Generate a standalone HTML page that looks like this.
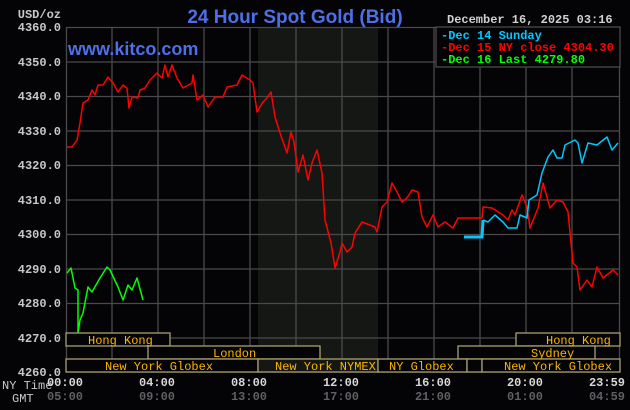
<!DOCTYPE html>
<html><head><meta charset="utf-8"><style>
html,body{margin:0;padding:0;background:#040406;width:630px;height:410px;overflow:hidden}
</style></head><body>
<svg width="630" height="410" xmlns="http://www.w3.org/2000/svg" style="display:block">
<rect width="630" height="410" fill="#040406"/>
<rect x="258" y="27" width="120" height="345" fill="#151715"/>
<g stroke="#4a4a4a" stroke-width="1.3">
<line x1="66" y1="27.5" x2="620" y2="27.5"/><line x1="66" y1="62" x2="620" y2="62"/><line x1="66" y1="96.5" x2="620" y2="96.5"/><line x1="66" y1="131" x2="620" y2="131"/><line x1="66" y1="165.5" x2="620" y2="165.5"/><line x1="66" y1="200" x2="620" y2="200"/><line x1="66" y1="234.5" x2="620" y2="234.5"/><line x1="66" y1="269" x2="620" y2="269"/><line x1="66" y1="303.5" x2="620" y2="303.5"/><line x1="66" y1="338" x2="620" y2="338"/><line x1="66" y1="372" x2="620" y2="372"/>
<line x1="66.5" y1="27" x2="66.5" y2="372"/><line x1="112" y1="27" x2="112" y2="372"/><line x1="158" y1="27" x2="158" y2="372"/><line x1="204" y1="27" x2="204" y2="372"/><line x1="250" y1="27" x2="250" y2="372"/><line x1="296" y1="27" x2="296" y2="372"/><line x1="342" y1="27" x2="342" y2="372"/><line x1="388" y1="27" x2="388" y2="372"/><line x1="434" y1="27" x2="434" y2="372"/><line x1="480" y1="27" x2="480" y2="372"/><line x1="526" y1="27" x2="526" y2="372"/><line x1="572" y1="27" x2="572" y2="372"/><line x1="619.5" y1="27" x2="619.5" y2="372"/>
</g>
<rect x="436" y="27" width="184" height="40" fill="#040406" stroke="#4a4a4a" stroke-width="1.3"/>
<g font-family="Liberation Mono, monospace" font-weight="bold" font-size="12">
<text x="441" y="39" fill="#00c8ff">-Dec 14 Sunday</text>
<text x="441" y="51" fill="#ff0000">-Dec 15 NY close 4304.30</text>
<text x="441" y="63" fill="#00ff00">-Dec 16 Last 4279.80</text>
</g>
<text x="447" y="23" font-family="Liberation Mono, monospace" font-weight="bold" font-size="12" fill="#d0d0d0">December 16, 2025 03:16</text>
<text x="295" y="23" text-anchor="middle" font-family="Liberation Sans, sans-serif" font-weight="bold" font-size="19" fill="#4f6fe8">24 Hour Spot Gold (Bid)</text>
<text x="68" y="55" font-family="Liberation Sans, sans-serif" font-weight="bold" font-size="18" fill="#4f6fe8">www.kitco.com</text>
<g font-family="Liberation Mono, monospace" font-weight="bold" font-size="12" fill="#c8c8c8" text-anchor="end">
<text x="61" y="18">USD/oz</text>
<text x="61" y="31">4360.0</text><text x="61" y="66">4350.0</text><text x="61" y="100">4340.0</text><text x="61" y="135">4330.0</text><text x="61" y="169">4320.0</text><text x="61" y="204">4310.0</text><text x="61" y="238">4300.0</text><text x="61" y="273">4290.0</text><text x="61" y="307">4280.0</text><text x="61" y="342">4270.0</text><text x="61" y="376">4260.0</text>
</g>
<g fill="none" stroke-width="1.5" stroke-linejoin="round">
<polyline stroke="#ff0000" points="67,147 72,147 77,140 80,123 83,103 88,100 92,90 95,95 98,85 103,85 108,77 113,83 118,92 123,85 127,88 129,108 132,97 138,98 140,90 145,88 150,80 157,73 162,78 165,65 168,77 172,65 177,78 183,88 192,83 193,75 197,100 203,95 208,107 215,97 223,97 227,87 237,85 242,75 250,80 253,83 257,112 263,102 267,98 271,92 275,117 280,133 287,153 291,132 294,142 298,172 303,155 308,180 312,163 317,150 322,173 325,220 331,243 335,268 340,252 342,243 347,252 352,247 355,233 362,222 375,227 377,232 382,207 387,202 392,183 397,192 402,202 407,198 412,190 418,192 422,217 427,227 433,215 438,227 445,222 453,228 458,218 482,218 483,207 492,208 503,215 508,220 512,210 515,215 522,195 527,207 530,228 538,208 543,183 550,208 557,200 563,202 568,212 573,263 577,267 580,290 587,280 592,287 597,267 603,278 613,270 618,275"/>
<polyline stroke="#00c8ff" points="483,220 488,222 495,215 503,222 508,228 517,228 520,215 527,218 529,200 537,195 542,173 548,157 553,150 557,158 562,158 565,145 575,140 578,143 582,163 588,143 597,145 607,137 612,150 618,143"/>
<polyline stroke="#00c8ff" stroke-width="3" points="464,237 482,237 483,220"/>
<polyline stroke="#00ff00" points="67,273 71,268 75,288 78,290 78,333 80,320 83,313 88,287 92,292 100,278 107,267 110,270 118,287 123,300 128,285 132,290 137,278 143,300"/>
</g>
<g fill="#040406" stroke="#a8a070" stroke-width="1.3">
<rect x="66" y="333" width="104" height="13"/>
<rect x="516" y="333" width="104" height="13"/>
<rect x="148" y="346" width="172" height="13"/>
<rect x="458" y="346" width="137" height="13"/>
<rect x="66" y="359" width="192" height="13"/>
<rect x="258" y="359" width="120" height="13" fill="#151715"/>
<rect x="378" y="359" width="89" height="13"/>
<rect x="467" y="359" width="15" height="13"/>
<rect x="482" y="359" width="138" height="13"/>
</g>
<g font-family="Liberation Mono, monospace" font-size="12" fill="#ffb400">
<text x="88" y="344">Hong Kong</text>
<text x="546" y="344">Hong Kong</text>
<text x="213" y="357">London</text>
<text x="531" y="357">Sydney</text>
<text x="105" y="370">New York Globex</text>
<text x="275" y="370">New York NYMEX</text>
<text x="389" y="370">NY Globex</text>
<text x="504" y="370">New York Globex</text>
</g>
<g font-family="Liberation Mono, monospace" font-size="12" fill="#c8c8c8">
<text x="2" y="389">NY Time</text><text x="12" y="402">GMT</text>
</g>
<g font-family="Liberation Mono, monospace" font-weight="bold" font-size="12" text-anchor="middle">
<g fill="#d8d8d8"><text x="65" y="386">00:00</text><text x="157" y="386">04:00</text><text x="249" y="386">08:00</text><text x="341" y="386">12:00</text><text x="433" y="386">16:00</text><text x="525" y="386">20:00</text><text x="607" y="386">23:59</text></g>
<g fill="#606060"><text x="65" y="400">05:00</text><text x="157" y="400">09:00</text><text x="249" y="400">13:00</text><text x="341" y="400">17:00</text><text x="433" y="400">21:00</text><text x="525" y="400">01:00</text><text x="607" y="400">04:59</text></g>
</g>
</svg>
</body></html>
